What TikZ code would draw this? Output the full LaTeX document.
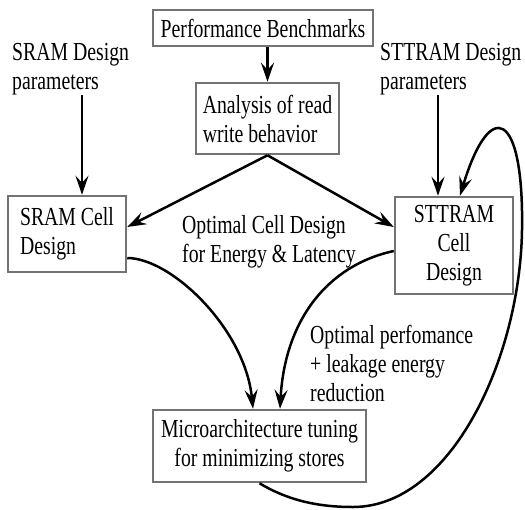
\documentclass[tikz,border=0pt]{standalone}
\usepackage{fontspec}
\setmainfont{Liberation Serif}[FakeStretch=0.76]
\usetikzlibrary{arrows.meta}
\begin{document}
\begin{tikzpicture}[x=1pt,y=-1pt,
  every node/.style={font=\fontsize{26}{29}\selectfont, inner sep=0pt},
  box/.style={draw=black!55, line width=2.5pt, fill=white},
  lbl/.style={align=left, anchor=west},
  arr/.style={line width=2.5pt, -{Stealth[length=19pt,width=13pt,inset=7pt]}}]
\useasboundingbox (0,0) rectangle (525,509);
% boxes
\node[box, minimum width=220pt, minimum height=36pt] (perf) at (263,28) {Performance Benchmarks};
\node[box, minimum width=143pt, minimum height=71pt, align=left] (ana) at (267.5,118.5) {Analysis of read\\write behavior};
\node[box, minimum width=118pt, minimum height=76pt, align=left] (sram) at (67,234) {SRAM Cell\\Design\phantom{ Cel}};
\node[box, minimum width=118pt, minimum height=97pt, align=center] (stt) at (454,245.5) {STTRAM\\Cell\\Design};
\node[box, minimum width=213pt, minimum height=72pt, align=center] (micro) at (259.5,446) {Microarchitecture tuning\\for minimizing stores};
% labels
\node[lbl] (sramp) at (12,69) {SRAM Design\\parameters};
\node[lbl] (sttp) at (380,69) {STTRAM Design\\parameters};
\node[lbl] (ocd) at (182,242) {Optimal Cell Design\\for Energy \& Latency};
\node[lbl] (opt) at (310,363) {Optimal perfomance\\+ leakage energy\\reduction};
% anchor points
\coordinate (sramtop) at ([xshift=15pt]sram.north);
\coordinate (stttop) at ([xshift=-16pt]stt.north);
\coordinate (loopend) at ([xshift=6pt]stt.north);
% connectors
\draw[arr] (perf.south -| ana.north) -- (ana.north);
\draw[arr] (sramp.south -| sramtop) -- (sramtop);
\draw[arr] (sttp.south -| stttop) -- (stttop);
\draw[arr] (ana.south) -- ([yshift=7pt]sram.east);
\draw[arr] (ana.south) -- ([yshift=18.5pt]stt.west);
\draw[arr] ([yshift=-24pt]sram.east) .. controls +(44,0) and +(-8,-80) .. ([xshift=-6.5pt]micro.north);
\draw[arr] ([yshift=-5.5pt]stt.west) .. controls +(-65,14) and +(5,-90) .. ([xshift=20.5pt]micro.north);
\draw[arr] (micro.south) .. controls +(30,18) and +(-33,0) .. (353,507)
  .. controls +(97,0) and +(-2,130) .. (522,230)
  .. controls +(2,-120) and +(30,-99) .. (loopend);
\end{tikzpicture}
\end{document}
